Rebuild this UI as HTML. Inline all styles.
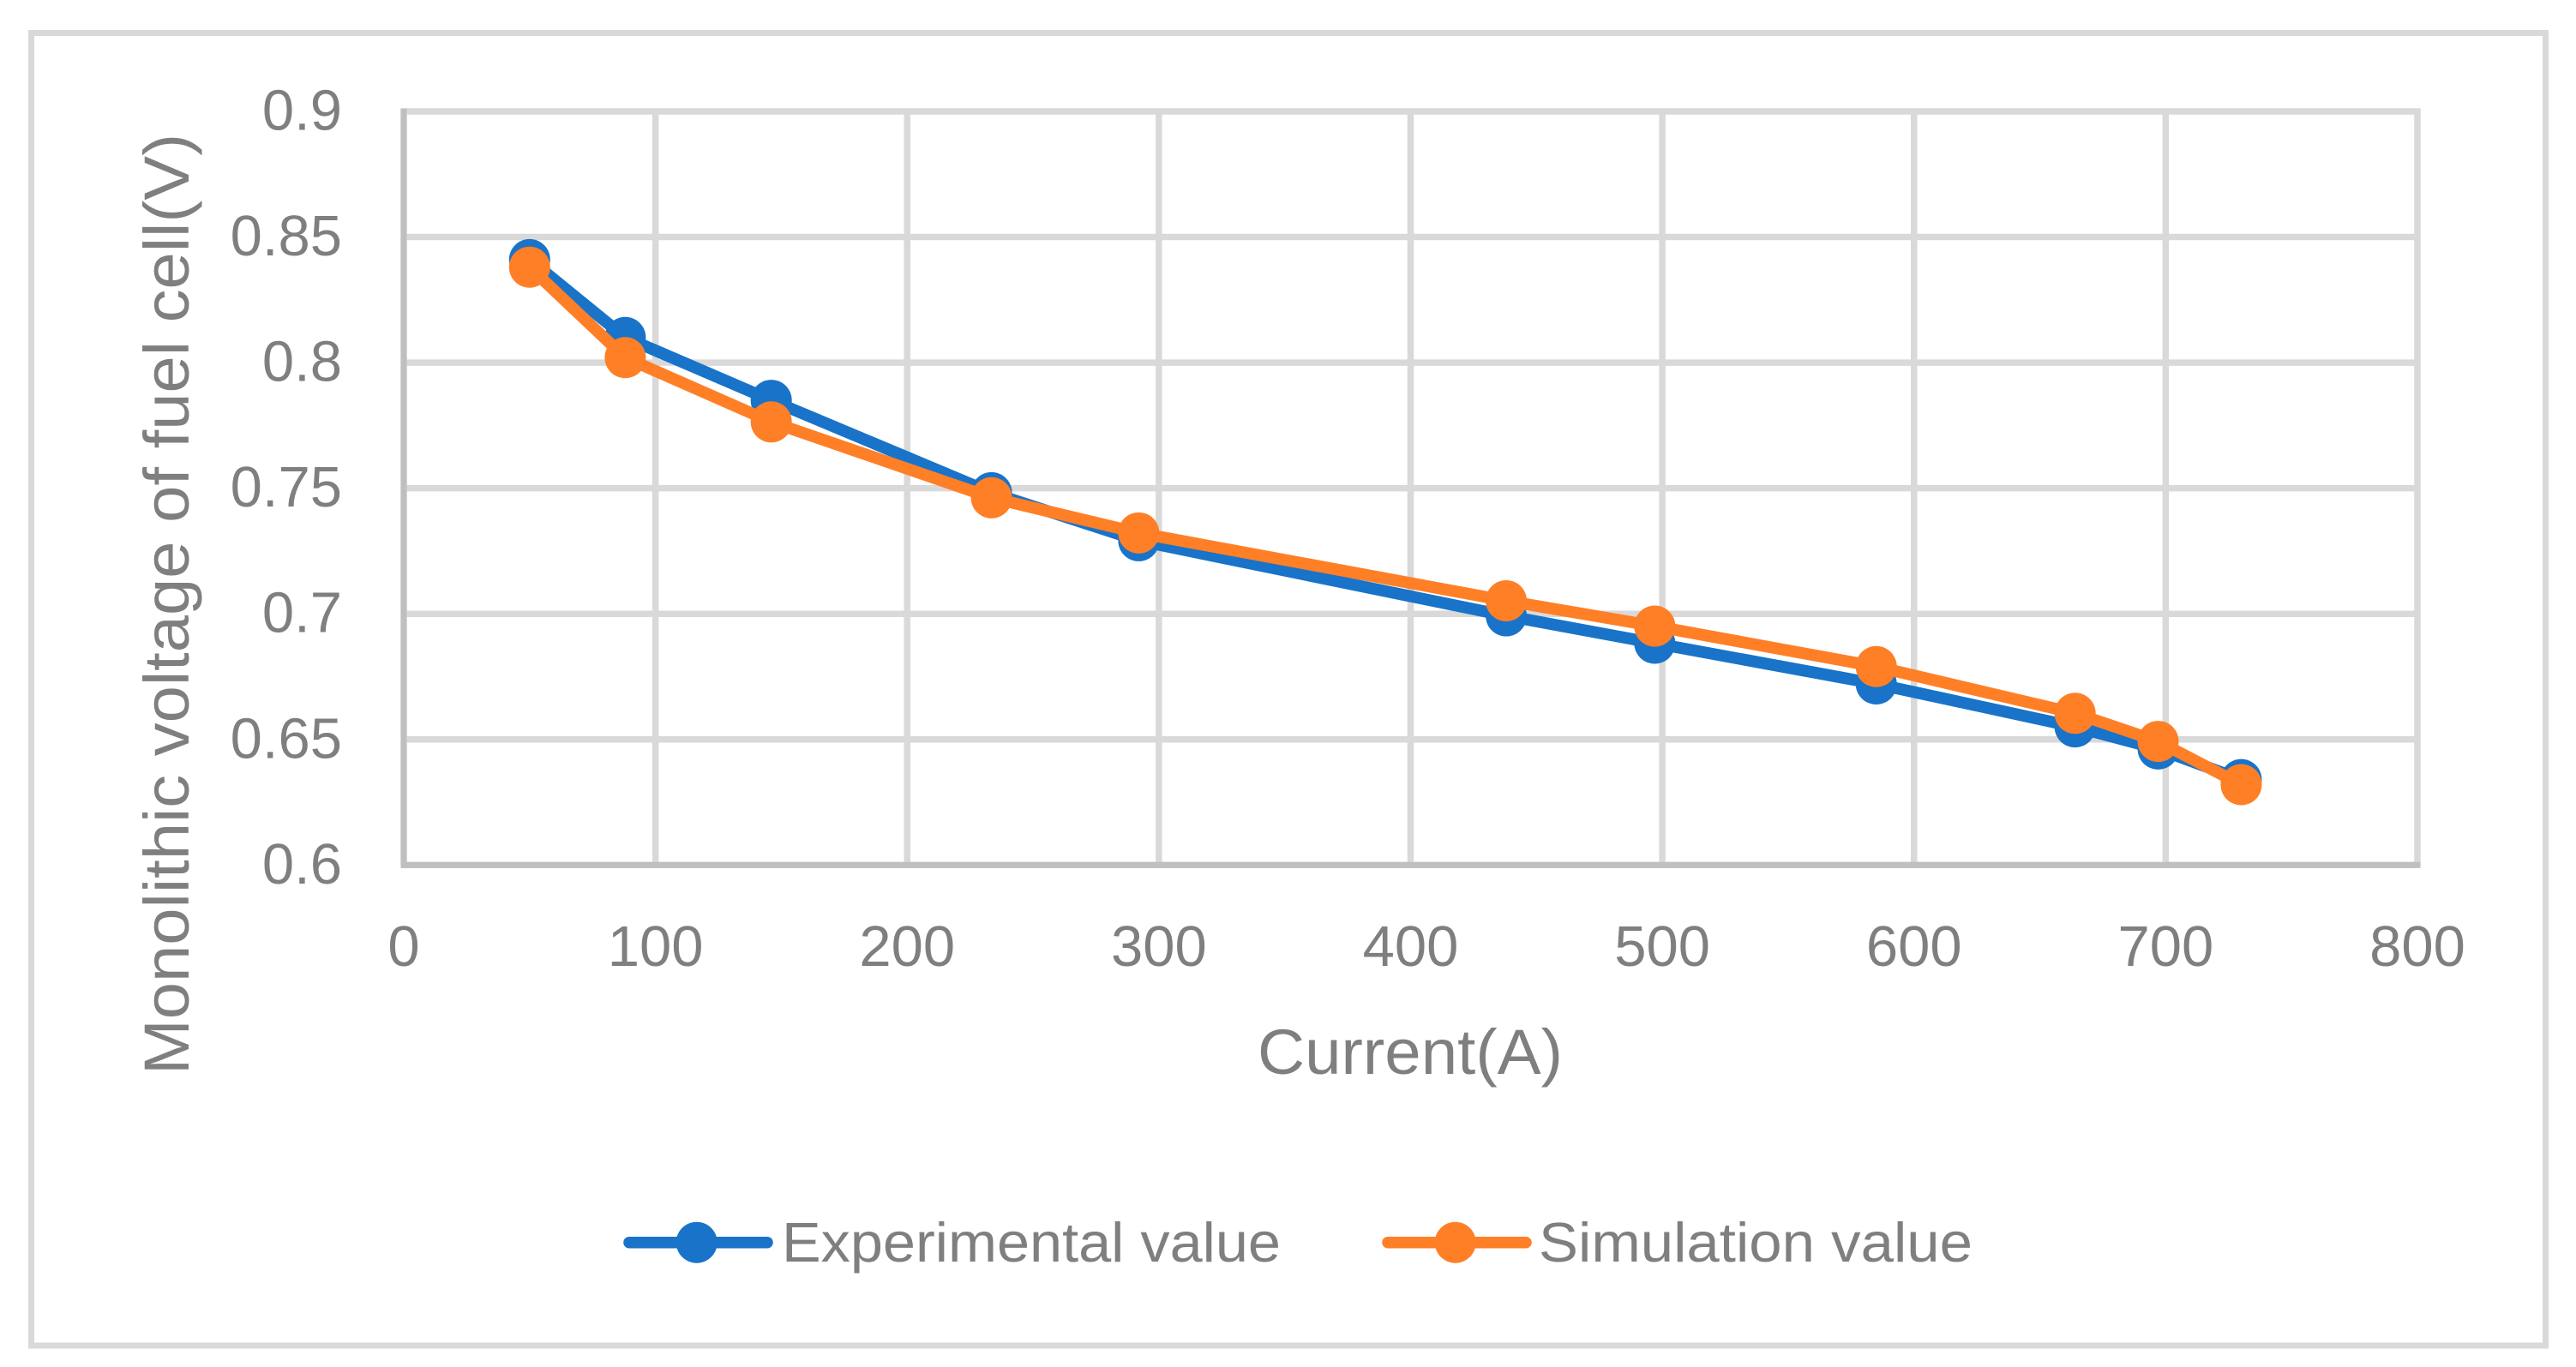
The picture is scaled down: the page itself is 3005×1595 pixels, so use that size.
<!DOCTYPE html>
<html lang="en">
<head>
<meta charset="utf-8">
<title>Monolithic voltage vs current</title>
<style>
html,body{margin:0;padding:0;background:#fff;}
svg{display:block;}
text{font-family:"Liberation Sans",sans-serif;fill:#7f7f7f;}
</style>
</head>
<body>
<svg id="chart" xmlns="http://www.w3.org/2000/svg" width="3005" height="1595" viewBox="0 0 3005 1595">
  <rect x="0" y="0" width="3005" height="1595" fill="#ffffff"/>
  <rect x="36.5" y="38.5" width="2933" height="1531.5" fill="none" stroke="#d9d9d9" stroke-width="7"/>
  <g id="grid"></g>
  <g id="axes"></g>
  <g id="xticks"></g>
  <g id="yticks"></g>
  <g id="series"></g>
  <text transform="translate(220,1254) rotate(-90)" font-size="74" textLength="1098" lengthAdjust="spacingAndGlyphs">Monolithic voltage of fuel cell(V)</text>
  <text x="1467" y="1253" font-size="74" textLength="356" lengthAdjust="spacingAndGlyphs">Current(A)</text>
  <g>
    <g>
      <line x1="734" y1="1449.7" x2="895" y2="1449.7" stroke="#1873c9" stroke-width="13.5" stroke-linecap="round"/>
      <circle cx="812.7" cy="1449.7" r="24" fill="#1873c9"/>
      <text x="912" y="1472" font-size="65" textLength="582" lengthAdjust="spacingAndGlyphs">Experimental value</text>
    </g>
    <g>
      <line x1="1619" y1="1449.7" x2="1780" y2="1449.7" stroke="#ff7f27" stroke-width="13.5" stroke-linecap="round"/>
      <circle cx="1697.7" cy="1449.7" r="24" fill="#ff7f27"/>
      <text x="1795" y="1472" font-size="65" textLength="506" lengthAdjust="spacingAndGlyphs">Simulation value</text>
    </g>
  </g>
</svg>
<script>
const currents = [50, 88, 146, 233.5, 292, 438, 497, 585, 664, 697, 730];
const experimentalValues = [0.841, 0.810, 0.785, 0.7482, 0.7291, 0.6992, 0.6883, 0.6721, 0.655, 0.6462, 0.634];
const simulationValues = [0.838, 0.802, 0.7764, 0.7462, 0.7322, 0.7052, 0.6951, 0.679, 0.6604, 0.6492, 0.632];
const xTickValues = [0, 100, 200, 300, 400, 500, 600, 700, 800];
const xTickLabels = ["0", "100", "200", "300", "400", "500", "600", "700", "800"];
const yTickValues = [0.6, 0.65, 0.7, 0.75, 0.8, 0.85, 0.9];
const yTickLabels = ["0.6", "0.65", "0.7", "0.75", "0.8", "0.85", "0.9"];

const SVG_NS = "http://www.w3.org/2000/svg";
const plotLeft = 471, plotRight = 2820, plotTop = 130, plotBottom = 1009.3;
const xMin = 0, xMax = 800, yMin = 0.6, yMax = 0.9;

function xScale(v) { return plotLeft + (v - xMin) / (xMax - xMin) * (plotRight - plotLeft); }
function yScale(v) { return plotBottom - (v - yMin) / (yMax - yMin) * (plotBottom - plotTop); }

function make(tag, parentId, props) {
  const el = document.createElementNS(SVG_NS, tag);
  Object.keys(props).forEach(function (k) { el.setAttribute(k, props[k]); });
  document.getElementById(parentId).appendChild(el);
  return el;
}

xTickValues.forEach(function (v, i) {
  const x = xScale(v);
  const grid = make("line", "grid", { x1: x, y1: plotTop - 3.5, x2: x, y2: plotBottom, stroke: "#d9d9d9", "stroke-width": 7.5 });
  
  
  const label = make("text", "xticks", { x: x, y: 1127, "font-size": 67, "text-anchor": "middle" });
  label.textContent = xTickLabels[i];
  
  
});

yTickValues.forEach(function (v, i) {
  const y = yScale(v);
  const grid = make("line", "grid", { x1: plotLeft, y1: y, x2: plotRight + 3.5, y2: y, stroke: "#d9d9d9", "stroke-width": 7.5 });
  
  
  const label = make("text", "yticks", { x: 399, y: y + 21.5, "font-size": 67, "text-anchor": "end" });
  label.textContent = yTickLabels[i];
  
  
});

const yAxisLine = make("line", "axes", { x1: plotLeft, y1: plotTop - 3.5, x2: plotLeft, y2: plotBottom + 3.5, stroke: "#bfbfbf", "stroke-width": 7 });


const xAxisLine = make("line", "axes", { x1: plotLeft - 3.5, y1: plotBottom, x2: plotRight + 3.5, y2: plotBottom, stroke: "#bfbfbf", "stroke-width": 7 });



function drawSeries(values, color, key) {
  const pts = values.map(function (v, i) { return xScale(currents[i]) + "," + yScale(v); }).join(" ");
  const line = make("polyline", "series", { points: pts, fill: "none", stroke: color, "stroke-width": 13.8, "stroke-linejoin": "round", "stroke-linecap": "round" });
  
  
  values.forEach(function (v, i) {
    const dot = make("circle", "series", { cx: xScale(currents[i]), cy: yScale(v), r: 24, fill: color });
    
    
  });
}

drawSeries(experimentalValues, "#1873c9", "experimental");
drawSeries(simulationValues, "#ff7f27", "simulation");
</script>
</body>
</html>
